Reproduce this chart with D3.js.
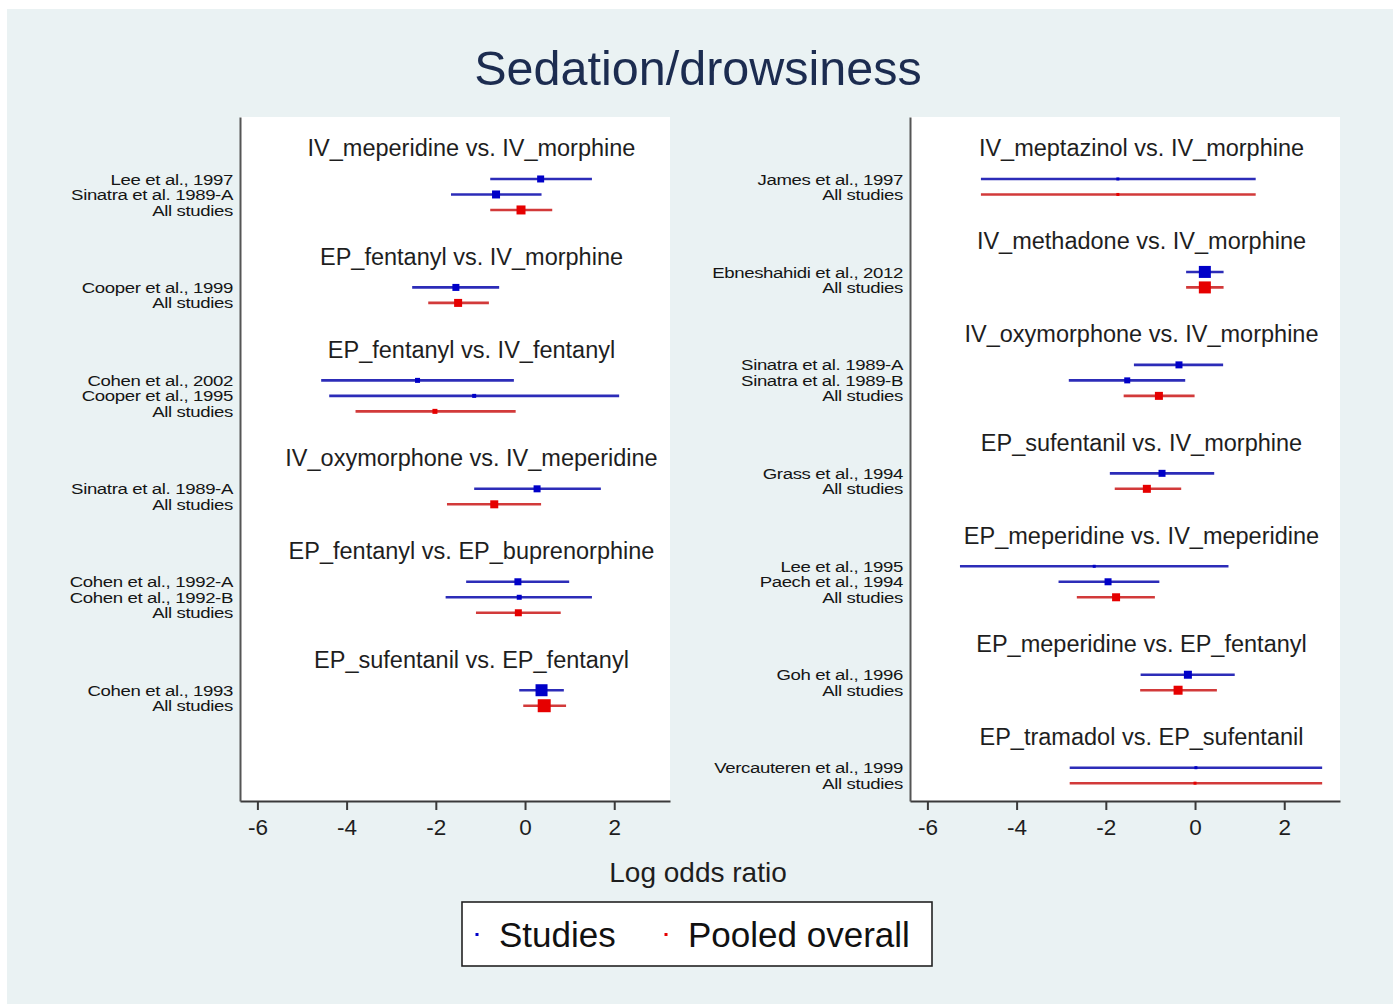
<!DOCTYPE html>
<html><head><meta charset="utf-8">
<script src="https://cdn.jsdelivr.net/npm/d3@7"></script>
<style>body{margin:0;background:#fff;} text{font-family:"Liberation Sans",Arial,sans-serif;}</style>
</head><body>
<svg id="chart" width="1393" height="1004"></svg>
<script>
// ---- data ----
const comparisons = [
  "IV_meperidine vs. IV_morphine","EP_fentanyl vs. IV_morphine","EP_fentanyl vs. IV_fentanyl",
  "IV_oxymorphone vs. IV_meperidine","EP_fentanyl vs. EP_buprenorphine","EP_sufentanil vs. EP_fentanyl",
  "IV_meptazinol vs. IV_morphine","IV_methadone vs. IV_morphine","IV_oxymorphone vs. IV_morphine",
  "EP_sufentanil vs. IV_morphine","EP_meperidine vs. IV_meperidine","EP_meperidine vs. EP_fentanyl",
  "EP_tramadol vs. EP_sufentanil"];
const comparisonPanel = [0,0,0,0,0,0,1,1,1,1,1,1,1];

const rowLabels = [
  "Lee et al., 1997","Sinatra et al. 1989-A","All studies",
  "Cooper et al., 1999","All studies",
  "Cohen et al., 2002","Cooper et al., 1995","All studies",
  "Sinatra et al. 1989-A","All studies",
  "Cohen et al., 1992-A","Cohen et al., 1992-B","All studies",
  "Cohen et al., 1993","All studies",
  "James et al., 1997","All studies",
  "Ebneshahidi et al., 2012","All studies",
  "Sinatra et al. 1989-A","Sinatra et al. 1989-B","All studies",
  "Grass et al., 1994","All studies",
  "Lee et al., 1995","Paech et al., 1994","All studies",
  "Goh et al., 1996","All studies",
  "Vercauteren et al., 1999","All studies"];
const rowComparison = [0,0,0, 1,1, 2,2,2, 3,3, 4,4,4, 5,5, 6,6, 7,7, 8,8,8, 9,9, 10,10,10, 11,11, 12,12];
const rowPooled = rowLabels.map(l => l === "All studies");
const rowEstimate = [0.35,-0.65,-0.09, -1.55,-1.50, -2.41,-1.14,-2.02, 0.27,-0.69, -0.16,-0.13,-0.15, 0.37,0.43,
  -1.73,-1.73, 0.22,0.22, -0.36,-1.52,-0.81, -0.74,-1.08, -2.26,-1.95,-1.77, -0.16,-0.38, 0.02,0.00];
const rowLower = [-0.78,-1.66,-0.78, -2.53,-2.17, -4.57,-4.39,-3.80, -1.14,-1.75, -1.32,-1.78,-1.10, -0.13,-0.04,
  -4.80,-4.80, -0.20,-0.20, -1.37,-2.83,-1.60, -1.91,-1.80, -5.27,-3.06,-2.65, -1.22,-1.23, -2.81,-2.81];
const rowUpper = [1.50,0.37,0.61, -0.58,-0.81, -0.25,2.11,-0.21, 1.70,0.36, 0.99,1.50,0.80, 0.87,0.92,
  1.36,1.36, 0.64,0.64, 0.63,-0.22,-0.01, 0.43,-0.31, 0.75,-0.80,-0.90, 0.89,0.49, 2.85,2.85];
const rowWeight = [49,64,81, 49,64, 25,16,25, 49,64, 49,25,49, 144,169,
  9,9, 144,144, 49,36,64, 49,64, 9,49,64, 64,81, 9,9];
const xTicks = [-6,-4,-2,0,2];
const legendLabels = ["Studies","Pooled overall"];

// ---- layout ----
const svg = d3.select("#chart");
const colors = {studyLine:"#2c2cb8", studyMark:"#0000c8", poolLine:"#d23a3a", poolMark:"#e60000"};
svg.append("rect").attr("x",7).attr("y",9).attr("width",1386).attr("height",995).attr("fill","#eaf2f3");

const panelX = [[240,670],[910,1340]];
const plotTop = 117, plotBottom = 801;
const y = d3.scaleLinear().domain([-2, 42.15]).range([plotTop, plotBottom]);
const size = d3.scaleSqrt().domain([0,169]).range([0,13]);

// compute row indices per panel
const titleIndex = {}, rowIndex = [];
[0,1].forEach(p => {
  let idx = 0;
  comparisons.forEach((c,ci) => {
    if (comparisonPanel[ci] !== p) return;
    titleIndex[ci] = idx; idx += 2;
    rowComparison.forEach((rc,ri) => { if (rc === ci) { rowIndex[ri] = idx; idx += 1; } });
    idx += 2;
  });
});

[0,1].forEach(p => {
  const x = d3.scaleLinear().domain([-6.39,3.25]).range(panelX[p]);
  const g = svg.append("g");
  g.append("rect").attr("x",panelX[p][0]).attr("y",plotTop).attr("width",panelX[p][1]-panelX[p][0]).attr("height",plotBottom-plotTop).attr("fill","#fff");

  // titles
  comparisons.forEach((c,ci) => {
    if (comparisonPanel[ci] !== p) return;
    g.append("text").attr("x", x(-1.2)).attr("y", y(titleIndex[ci])).attr("dy","0.36em")
      .attr("text-anchor","middle").attr("font-size",23.5).attr("fill","#1e1e1e").text(c);
  });

  const rows = d3.range(rowLabels.length).filter(i => comparisonPanel[rowComparison[i]] === p);
  // labels (horizontally stretched like the original)
  g.selectAll("g.lab").data(rows).join("g").attr("class","lab")
    .attr("transform", i => `translate(${panelX[p][0]-7},${y(rowIndex[i])}) scale(1.2,1)`)
    .append("text").attr("dy","0.36em")
    .attr("text-anchor","end").attr("font-size",15.5).attr("letter-spacing","-0.3")
    .attr("fill","#151515").text(i => rowLabels[i]);
  // CI lines
  g.selectAll("line.ci").data(rows).join("line").attr("class","ci")
    .attr("x1", i => x(rowLower[i])).attr("x2", i => x(rowUpper[i]))
    .attr("y1", i => y(rowIndex[i])).attr("y2", i => y(rowIndex[i]))
    .attr("stroke", i => rowPooled[i] ? colors.poolLine : colors.studyLine).attr("stroke-width",2.6);
  // markers
  g.selectAll("rect.mk").data(rows).join("rect").attr("class","mk")
    .attr("x", i => x(rowEstimate[i]) - size(rowWeight[i])/2)
    .attr("y", i => y(rowIndex[i]) - size(rowWeight[i])/2)
    .attr("width", i => size(rowWeight[i])).attr("height", i => size(rowWeight[i]))
    .attr("fill", i => rowPooled[i] ? colors.poolMark : colors.studyMark);

  // axes
  const ax = g.append("g").attr("transform",`translate(0,${plotBottom})`)
    .call(d3.axisBottom(x).tickValues(xTicks).tickSize(9).tickSizeOuter(0).tickFormat(d3.format("d")));
  ax.select(".domain").attr("stroke","#3a3a3a").attr("stroke-width",2);
  ax.selectAll(".tick line").attr("stroke","#3a3a3a").attr("stroke-width",2);
  ax.selectAll(".tick text").attr("font-size",22.5).attr("fill","#1e1e1e").attr("y",18)
    .attr("font-family","Liberation Sans, Arial, sans-serif").text(d => d < 0 ? "-" + Math.abs(d) : d);
  const ay = g.append("g").attr("transform",`translate(${panelX[p][0]},0)`)
    .call(d3.axisLeft(y).tickValues([]).tickSizeOuter(0));
  ay.select(".domain").attr("stroke","#555").attr("stroke-width",2);
});

// title & axis title
svg.append("text").attr("x",698).attr("y",85).attr("text-anchor","middle").attr("font-size",48.5)
  .attr("fill","#1c2c50").text("Sedation/drowsiness");
svg.append("text").attr("x",698).attr("y",882).attr("text-anchor","middle").attr("font-size",28)
  .attr("fill","#1e1e1e").text("Log odds ratio");

// legend
const lg = svg.append("g");
lg.append("rect").attr("x",462).attr("y",902).attr("width",470).attr("height",64)
  .attr("fill","#fff").attr("stroke","#222").attr("stroke-width",1.6);
const legendColors = [colors.studyMark, colors.poolMark];
const legendX = [477, 666];
legendLabels.forEach((l,i) => {
  lg.append("rect").attr("x",legendX[i]-1.5).attr("y",933).attr("width",3).attr("height",3).attr("fill",legendColors[i]);
  lg.append("text").attr("x",legendX[i]+22).attr("y",947).attr("font-size",35).attr("fill","#111").text(l);
});
</script>
</body></html>
